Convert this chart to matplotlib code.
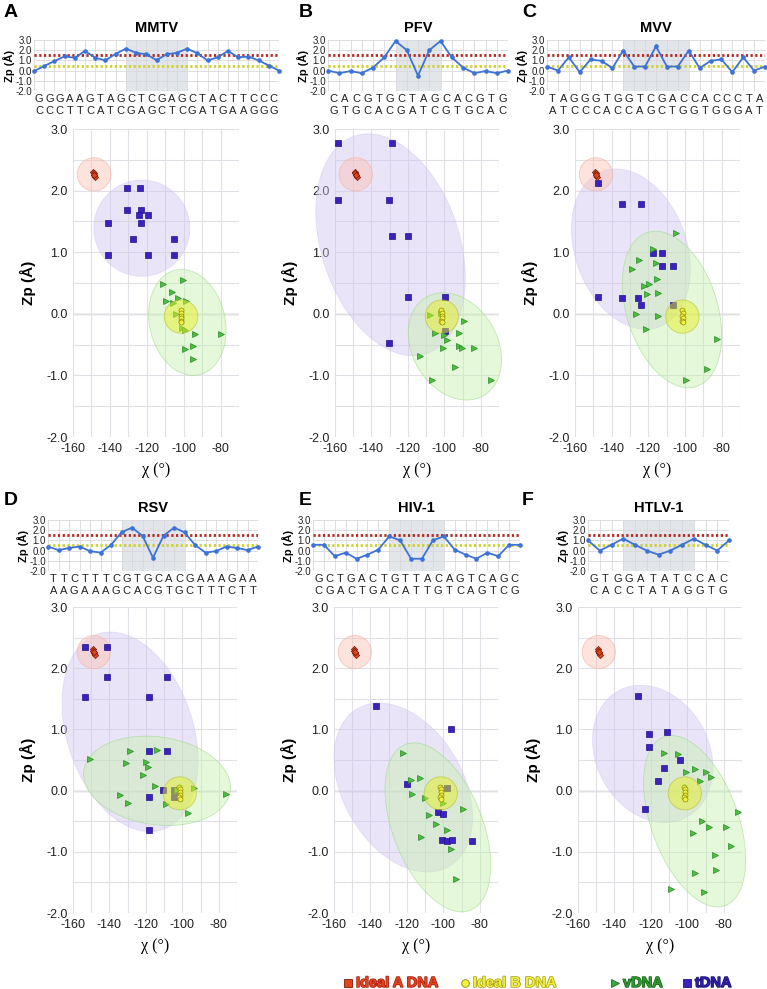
import numpy as np
import matplotlib
matplotlib.use("Agg")
import matplotlib.pyplot as plt
from matplotlib.lines import Line2D
import matplotlib.patheffects as pe

plt.rcParams['font.family'] = ['Liberation Sans', 'DejaVu Sans']
plt.rcParams['axes.unicode_minus'] = False

# ---------------- Zp profiles along the sequences ----------------
a_dna_zp = 1.5
b_dna_zp = 0.5

mmtv_seq = ["GGGAAGTAGCTCGAGCTACTTCCC", "CCCTTCATCGAGCTCGATGAAGGG"]
mmtv_zp = [-0.05, 0.45, 0.93, 1.4, 1.25, 1.93, 1.25, 1.0, 1.65, 2.15, 1.75, 1.6, 1.03,
           1.6, 1.75, 2.15, 1.7, 1.0, 1.3, 1.93, 1.3, 1.38, 1.0, 0.5, 0.0]
mmtv_core = [9, 15]

pfv_seq = ["CACGTGCTAGCACGTG", "GTGCACGATCGTGCAC"]
pfv_zp = [0.0, -0.25, -0.05, -0.25, 0.3, 1.3, 2.9, 2.0, -0.5, 2.0, 2.9, 1.3, 0.3,
          -0.25, -0.05, -0.25, 0.0]
pfv_core = [6, 10]

mvv_seq = ["TAGGGTGGTCGACCACCCTA", "ATCCCACCAGCTGGTGGGAT"]
mvv_zp = [0.4, 0.0, 1.3, -0.15, 1.1, 0.95, 0.25, 1.97, 0.4, 0.4, 2.38, 0.4, 0.4, 1.97,
          0.25, 0.95, 1.1, -0.15, 1.3, 0.0, 0.4]
mvv_core = [7, 13]

rsv_seq = ["TTCTTTCGTGCACGAAAGAA", "AAGAAAGCACGTGCTTTCTT"]
rsv_zp = [0.4, 0.05, 0.25, 0.4, -0.05, -0.2, 0.55, 1.8, 2.25, 1.45, -0.7, 1.45, 2.25,
          1.8, 0.55, -0.2, -0.05, 0.4, 0.25, 0.05, 0.4]
rsv_core = [7, 13]

hiv_seq = ["GCTGACTGTTACAGTCAGC", "CGACTGACATTGTCAGTCG"]
hiv_zp = [0.57, 0.57, -0.55, -0.2, -0.8, -0.4, 0.1, 1.4, 1.0, -0.8, -0.8, 1.0, 1.4,
          0.1, -0.4, -0.8, -0.2, -0.55, 0.57, 0.57]
hiv_core = [7, 12]

htlv_seq = ["GTGGATATCCAC", "CACCTATAGGTG"]
htlv_zp = [1.0, 0.0, 0.57, 1.17, 0.57, 0.0, -0.4, 0.0, 0.57, 1.17, 0.57, 0.0, 1.0]
htlv_core = [3, 9]

# ---------------- chi / Zp scatter ----------------
ideal_a_x = [-149.2, -148.8, -148.4, -148.0, -148.6]
ideal_a_y = [2.31, 2.28, 2.25, 2.22, 2.26]
ideal_b_x = [-101.6, -101.3, -101.5, -101.2, -101.6, -101.3]
ideal_b_y = [0.06, 0.02, -0.03, -0.07, -0.11, -0.14]

mmtv_t_x = [-130.8, -123.6, -130.8, -123.1, -124.0, -119.6, -141.1, -123.1, -127.2, -105.0, -141.1, -119.6, -105.0]
mmtv_t_y = [2.04, 2.04, 1.69, 1.69, 1.60, 1.60, 1.48, 1.48, 1.22, 1.22, 0.96, 0.95, 0.95]
mmtv_v_x = [-111.4, -100.2, -106.1, -102.9, -109.5, -106.0, -98.7, -104.1, -101.1, -99.1, -94.1, -80.0, -99.1, -95.1, -94.8]
mmtv_v_y = [0.48, 0.55, 0.35, 0.26, 0.21, 0.18, 0.21, 0.0, -0.23, -0.26, -0.33, -0.33, -0.57, -0.53, -0.73]

pfv_t_x = [-158.2, -128.6, -158.2, -130.4, -128.6, -119.8, -119.8, -99.9, -130.4, -99.9]
pfv_t_y = [2.77, 2.77, 1.84, 1.84, 1.26, 1.26, 0.27, 0.27, -0.47, -0.28]
pfv_v_x = [-108.1, -89.2, -105.3, -100.2, -92.0, -98.8, -100.6, -92.0, -90.5, -83.6, -113.4, -94.2, -106.6, -74.3, -102.0]
pfv_v_y = [-0.02, -0.11, -0.31, -0.35, -0.31, -0.43, -0.56, -0.52, -0.56, -0.56, -0.68, -0.87, -1.07, -1.08, 0.02]

mvv_t_x = [-147.3, -134.5, -123.8, -117.3, -112.4, -112.4, -106.5, -147.3, -134.5, -125.6, -123.8, -106.5]
mvv_t_y = [2.12, 1.79, 1.78, 0.98, 0.98, 0.78, 0.78, 0.27, 0.25, 0.26, 0.14, 0.15]
mvv_v_x = [-105.1, -117.3, -125.1, -116.0, -129.1, -115.5, -119.6, -122.4, -114.5, -120.5, -126.9, -114.5, -121.5, -82.7, -88.0, -99.3]
mvv_v_y = [1.31, 1.06, 0.87, 0.82, 0.73, 0.56, 0.48, 0.45, 0.33, 0.32, 0.0, -0.03, -0.24, -0.41, -0.89, -1.08]

rsv_t_x = [-153.6, -141.4, -141.4, -108.6, -153.6, -118.5, -118.5, -108.6, -110.5, -118.5, -118.5, -104.6, -104.6]
rsv_t_y = [2.34, 2.34, 1.86, 1.86, 1.53, 1.53, 0.64, 0.64, 0.01, -0.10, -0.64, 0.01, -0.10]
rsv_v_x = [-150.9, -128.7, -114.1, -130.9, -119.9, -118.7, -121.4, -115.0, -134.1, -129.6, -109.0, -96.8, -93.5, -75.8, -103.2]
rsv_v_y = [0.51, 0.65, 0.66, 0.45, 0.46, 0.38, 0.26, 0.08, -0.07, -0.20, -0.22, -0.36, 0.04, -0.05, 0.01]

hiv_t_x = [-137.0, -96.0, -120.0, -98.0, -103.0, -100.0, -101.0, -98.0, -95.0, -84.0]
hiv_t_y = [1.38, 1.0, 0.1, 0.05, -0.35, -0.38, -0.8, -0.82, -0.8, -0.82]
hiv_v_x = [-122.0, -118.0, -113.0, -117.0, -110.0, -108.0, -104.0, -98.0, -96.0, -93.0, -89.0, -112.0, -100.0]
hiv_v_y = [0.62, 0.18, 0.2, -0.05, -0.12, -0.4, -0.55, -0.65, -0.95, -1.45, -0.3, -0.75, -0.2]

htlv_t_x = [-127.0, -121.0, -111.0, -121.0, -104.0, -113.0, -123.0, -116.0]
htlv_t_y = [1.55, 0.93, 0.95, 0.72, 0.5, 0.37, -0.3, 0.15]
htlv_v_x = [-113.0, -105.0, -96.0, -90.0, -87.0, -93.0, -101.0, -92.0, -97.0, -88.0, -85.0, -79.0, -76.0, -72.0, -84.0, -96.0, -109.0, -91.0]
htlv_v_y = [0.62, 0.6, 0.35, 0.3, 0.22, 0.15, 0.3, -0.5, -0.7, -0.6, -1.05, -0.6, -0.9, -0.35, -1.3, -1.35, -1.6, -1.65]

# cluster regions: centre x, centre y, half-extent x, half-extent y, tilt (correlation)
mmtv_t_region = [-122.7, 1.39, 26.0, 0.78, 0.0]
mmtv_v_region = [-98.0, -0.14, 21.0, 0.86, -0.15]
pfv_t_region = [-129.5, 1.12, 41.0, 1.80, -0.30]
pfv_v_region = [-94.2, -0.53, 25.6, 0.87, -0.25]
mvv_t_region = [-129.5, 1.05, 32.4, 1.30, -0.25]
mvv_v_region = [-107.1, 0.07, 27.1, 1.27, -0.33]
rsv_t_region = [-128.7, 0.96, 37.3, 1.63, -0.29]
rsv_v_region = [-113.9, 0.16, 40.3, 0.73, -0.15]
hiv_t_region = [-122.0, 0.05, 38.0, 1.38, -0.35]
hiv_v_region = [-103.0, -0.6, 29.0, 1.38, -0.45]
htlv_t_region = [-119.0, 0.6, 33.0, 1.12, -0.2]
htlv_v_region = [-96.0, -0.5, 28.0, 1.4, -0.45]
ideal_rx, ideal_ry = 9.1, 0.27

W, H = 767, 989
fig = plt.figure(figsize=(W / 100, H / 100), dpi=100)


def box(l, t, r, b):
    return fig.add_axes([l / W, 1 - b / H, (r - l) / W, (b - t) / H])


def region(ax, cx, cy, rx, ry, rho, fc, ec, z=1):
    t = np.linspace(0, 2 * np.pi, 240)
    x = cx + rx * np.cos(t)
    y = cy + ry * (rho * np.cos(t) + np.sqrt(1 - rho ** 2) * np.sin(t))
    patches = ax.fill(x, y, fc=fc, ec=ec, lw=0.6, zorder=z)
    for p in patches:
        p.set_clip_on(False)


def profile(ax, seq, zp, core, title):
    n = len(zp)
    x = np.arange(n)
    ax.set_xlim(0, n - 1)
    ax.set_ylim(-2, 3)
    ax.axvspan(core[0], core[1], color='#e2e5e9', zorder=0, lw=0)
    ax.set_xticks(x)
    ax.set_xticklabels([])
    ax.set_yticks([-2, -1, 0, 1, 2, 3])
    ax.yaxis.set_major_formatter('{x:.1f}')
    ax.grid(True, color='#d9d9dc', lw=0.6)
    ax.set_axisbelow(True)
    ax.tick_params(length=0, labelsize=7, pad=1.5, colors='#222222')
    for s in ax.spines.values():
        s.set_visible(False)
    ax.axhline(a_dna_zp, color='#b3261e', lw=2.0, ls=(0, (0.8, 0.9)), zorder=2)
    ax.axhline(b_dna_zp, color='#cfcf2a', lw=2.0, ls=(0, (0.8, 0.9)), zorder=2)
    ax.plot(x, zp, color='#3d72d6', lw=1.3, marker='o', ms=2.3, zorder=3, clip_on=False)
    tr = ax.get_xaxis_transform()
    for i, (a, b) in enumerate(zip(seq[0], seq[1])):
        ax.text(i + 0.5, -0.15, a, transform=tr, ha='center', va='center', fontsize=8, color='#222222')
        ax.text(i + 0.5, -0.39, b, transform=tr, ha='center', va='center', fontsize=8, color='#222222')
    ax.set_title(title, fontsize=10.5, fontweight='bold', pad=6)
    ax.set_ylabel('Zp (Å)', fontsize=8, fontweight='bold', labelpad=0.5)


def scatter(ax, tx, ty, vx, vy, treg, vreg):
    ax.set_xlim(-160, -70)
    ax.set_ylim(-2, 3)
    ax.set_xticks(np.arange(-160, -79, 20))
    ax.set_xticks(np.arange(-160, -69, 10), minor=True)
    ax.set_yticks(np.arange(-2, 3.1, 1))
    ax.set_yticks(np.arange(-2, 3.1, 0.5), minor=True)
    ax.yaxis.set_major_formatter('{x:.1f}')
    ax.xaxis.set_major_formatter('{x:.0f}')
    ax.grid(True, which='both', color='#e0e0e6', lw=0.8)
    ax.set_axisbelow(True)
    ax.tick_params(which='both', length=0, labelsize=9, pad=4, colors='#222222')
    for s in ax.spines.values():
        s.set_visible(False)
    ax.axhline(0, color='#bcbcbc', lw=1.0, zorder=0.5)
    region(ax, *treg, fc=(0.82, 0.77, 0.94, 0.45), ec=(0.82, 0.77, 0.94, 0.5))
    region(ax, *vreg, fc=(0.76, 0.95, 0.66, 0.42), ec=(0.62, 0.85, 0.55, 0.6))
    region(ax, np.mean(ideal_a_x), np.mean(ideal_a_y), ideal_rx, ideal_ry, 0,
           fc=(0.99, 0.76, 0.70, 0.45), ec=(0.95, 0.70, 0.65, 0.7))
    ax.plot(tx, ty, 's', ms=4.3, mfc='#3b22bf', mec='#22128a', mew=0.5, ls='none', zorder=3)
    ax.plot(vx, vy, '>', ms=4.3, mfc='#4cbf3c', mec='#2a8a2a', mew=0.5, ls='none', zorder=3)
    region(ax, np.mean(ideal_b_x), np.mean(ideal_b_y), ideal_rx, ideal_ry, 0,
           fc=(0.90, 0.94, 0.15, 0.5), ec=(0.70, 0.72, 0.20, 0.6), z=4)
    ax.plot(ideal_a_x, ideal_a_y, 'D', ms=3.2, mfc='#e0461c', mec='#7a1a08', mew=0.5, ls='none', zorder=5)
    ax.plot(ideal_b_x, ideal_b_y, 'o', ms=3.6, mfc='#f2f23a', mec='#8a8a10', mew=0.5, ls='none', zorder=5)
    ax.set_ylabel('Zp (Å)', fontsize=11, fontweight='bold', labelpad=7)
    ax.set_xlabel('χ (°)', fontsize=11.5, family=['Liberation Serif', 'DejaVu Serif'], labelpad=5)


panels = [
    ('A', 'MMTV', mmtv_seq, mmtv_zp, mmtv_core, (34, 40, 279, 91), (73, 129, 239, 437),
     mmtv_t_x, mmtv_t_y, mmtv_v_x, mmtv_v_y, mmtv_t_region, mmtv_v_region, (4, 4)),
    ('B', 'PFV', pfv_seq, pfv_zp, pfv_core, (328, 40, 508, 91), (335, 129, 499, 437),
     pfv_t_x, pfv_t_y, pfv_v_x, pfv_v_y, pfv_t_region, pfv_v_region, (299, 4)),
    ('C', 'MVV', mvv_seq, mvv_zp, mvv_core, (547, 40, 765, 91), (575, 129, 740, 437),
     mvv_t_x, mvv_t_y, mvv_v_x, mvv_v_y, mvv_t_region, mvv_v_region, (522, 4)),
    ('D', 'RSV', rsv_seq, rsv_zp, rsv_core, (48, 520, 258, 571), (73, 607, 237, 913),
     rsv_t_x, rsv_t_y, rsv_v_x, rsv_v_y, rsv_t_region, rsv_v_region, (4, 492)),
    ('E', 'HIV-1', hiv_seq, hiv_zp, hiv_core, (313, 520, 520, 571), (334, 607, 498, 913),
     hiv_t_x, hiv_t_y, hiv_v_x, hiv_v_y, hiv_t_region, hiv_v_region, (299, 492)),
    ('F', 'HTLV-1', htlv_seq, htlv_zp, htlv_core, (588, 520, 729, 571), (578, 607, 742, 913),
     htlv_t_x, htlv_t_y, htlv_v_x, htlv_v_y, htlv_t_region, htlv_v_region, (522, 492)),
]

for (lab, name, seq, zp, core, pbox, sbox, tx, ty, vx, vy, treg, vreg, lpos) in panels:
    profile(box(*pbox), seq, zp, core, name)
    scatter(box(*sbox), tx, ty, vx, vy, treg, vreg)
    fig.text(lpos[0] / W, 1 - lpos[1] / H, lab, fontsize=14, fontweight='bold', va='top', ha='left')

# legend along the bottom
legend_items = [
    ('s', '#e0461c', '#7a1a08', 'Ideal A DNA', '#e8401c', '#9a2010', 348),
    ('o', '#f2f23a', '#8a8a10', 'Ideal B DNA', '#f0ee3a', '#a09a10', 465),
    ('>', '#3aa83a', '#1e6e1e', 'vDNA', '#2e9a2e', '#1a5a1a', 615),
    ('s', '#3b22bf', '#22128a', 'tDNA', '#2f1fa0', '#1a1070', 687),
]
ly = 1 - 983 / H
for mk, fc, ec, txt, tc, oc, px in legend_items:
    fig.add_artist(Line2D([px / W], [ly], marker=mk, ms=5.5, mfc=fc, mec=ec, mew=0.6,
                          ls='none', transform=fig.transFigure))
    t = fig.text((px + 8) / W, ly, txt, fontsize=10.5, fontweight='bold', color=tc,
                 va='center', ha='left')
    t.set_path_effects([pe.Stroke(linewidth=1.0, foreground=oc), pe.Normal()])

fig.savefig('out.png', dpi=100)
